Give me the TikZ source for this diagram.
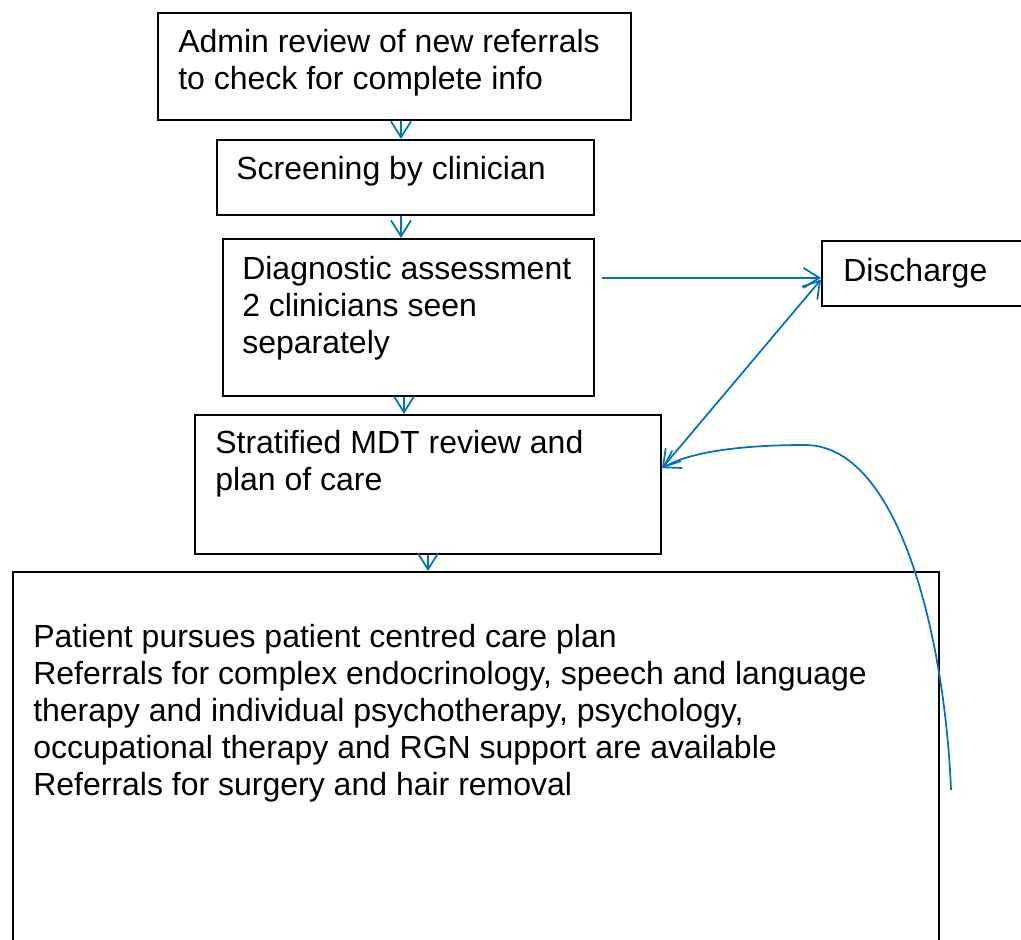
\documentclass[tikz,border=0pt]{standalone}
\usepackage{fontspec}
\setmainfont{Liberation Sans}
\usepackage{tikz}
\usetikzlibrary{arrows.meta}
\definecolor{flowblue}{RGB}{0,112,192}

\begin{document}
\begin{tikzpicture}[x=0.75pt,y=0.75pt,yscale=-1,xscale=1,
  box/.style={draw, line width=1.5pt, rectangle, anchor=north west, inner sep=0pt},
  txt/.style={anchor=north west, inner sep=0pt, align=left, font=\fontsize{24}{27.75}\selectfont},
  flow/.style={draw=flowblue, line width=1.3pt, -{Straight Barb[length=12pt,width=15pt]}},
  flowboth/.style={flow, {Straight Barb[length=12pt,width=15pt]}-{Straight Barb[length=12pt,width=15pt]}}]
\useasboundingbox (0,0) rectangle (1021,939);
\clip (0,0) rectangle (1021,939);

%Shape: Rectangle [admin]
\node [box, minimum width=354.75pt, minimum height=80.25pt] (admin) at (157,12) {};
%Shape: Rectangle [screen]
\node [box, minimum width=282.75pt, minimum height=56.25pt] (screen) at (216,139) {};
%Shape: Rectangle [diag]
\node [box, minimum width=278.25pt, minimum height=117.75pt] (diag) at (222,238) {};
%Shape: Rectangle [disch]
\node [box, minimum width=171.75pt, minimum height=48.75pt] (disch) at (821,240) {};
%Shape: Rectangle [strat]
\node [box, minimum width=349.5pt, minimum height=104.25pt] (strat) at (194,414) {};
%Shape: Rectangle [plan]
\node [box, minimum width=694.5pt, minimum height=291.75pt] (plan) at (12,571) {};

%Straight Lines
\draw [flow] ([xshift=4.875pt]admin.south) -- ([xshift=-3.375pt]screen.north);
%Straight Lines
\draw [flow] ([xshift=-3.375pt]screen.south) -- ([xshift=-5.625pt]diag.north);
%Straight Lines
\draw [flow] ([xshift=-3.375pt]diag.south) -- ([xshift=-18pt]strat.north);
%Straight Lines
\draw [flow] (strat.south) -- ([xshift=-36pt]plan.north);
%Straight Lines
\draw [flow] ([xshift=5pt]diag.12) -- (diag.12 -| disch.west);
%Straight Lines
\draw [flowboth] (disch.183.25) -- (strat.4.5);
%Curve Lines
\coordinate (loopstart) at (951,790);
\draw [flow] (loopstart) .. controls (945,640) and (900,445) .. (805,445) .. controls (740,445) and (690,452) .. (strat.4.5);

% Text Node
\node [txt] (admintxt) at (178,29) {Admin review of new referrals\\to check for complete info};
% Text Node
\node [txt] (screentxt) at (236,156) {Screening by clinician};
% Text Node
\node [txt] (diagtxt) at (242,256.5) {Diagnostic assessment\\2 clinicians seen\\separately};
% Text Node
\node [txt] (dischtxt) at (843,258.5) {Discharge};
% Text Node
\node [txt] (strattxt) at (215,430.5) {Stratified MDT review and\\plan of care};
% Text Node
\node [txt] (plantxt) at (33,624.5) {Patient pursues patient centred care plan\\Referrals for complex endocrinology, speech and language\\therapy and individual psychotherapy, psychology,\\occupational therapy and RGN support are available\\Referrals for surgery and hair removal};

\end{tikzpicture}
\end{document}
